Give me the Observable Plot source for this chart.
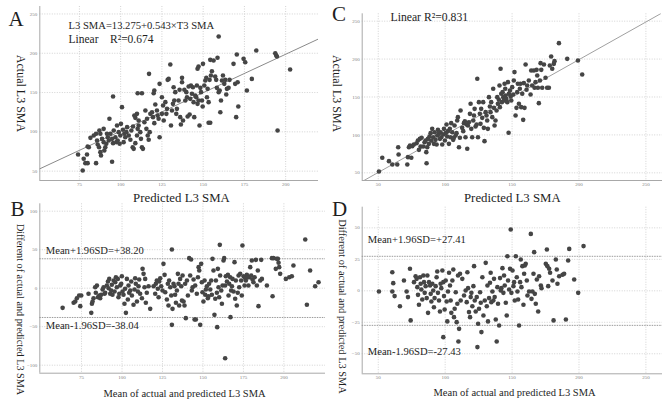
<!DOCTYPE html>
<html><head><meta charset="utf-8">
<script src="https://cdn.jsdelivr.net/npm/d3@7"></script>
<script src="https://cdn.jsdelivr.net/npm/@observablehq/plot@0.6"></script>
<style>
html,body{margin:0;padding:0;background:#fff;}
#wrap{position:relative;width:665px;height:404px;overflow:hidden;background:#fff;}
#wrap svg{position:absolute;overflow:visible;}
</style></head><body><div id="wrap"></div>
<script>
// Panel A: predicted vs actual L3 SMA (T3-based model)
const aPred = [77.0,74.2,77.6,78.6,80.0,79.6,85.1,80.0,80.7,81.7,83.7,85.1,85.7,86.1,86.9,87.7,88.1,87.1,87.7,89.7,88.7,89.7,90.7,90.1,91.7,92.2,91.3,92.8,93.8,94.8,95.4,95.8,96.8,97.4,93.2,94.8,95.4,97.8,98.8,99.8,98.2,99.4,100.2,100.8,101.4,102.2,102.8,101.8,103.5,103.9,104.9,105.9,106.5,107.3,107.9,107.5,108.9,109.9,110.3,110.9,111.9,112.3,112.9,113.5,108.3,108.9,109.9,110.9,110.3,112.9,115.0,116.0,114.4,115.6,116.4,117.6,117.0,118.0,119.0,119.6,120.4,121.0,120.4,120.0,117.2,122.0,122.4,123.0,123.6,123.6,125.0,125.7,125.0,126.1,127.1,128.1,128.5,127.7,129.1,130.1,130.5,131.1,131.7,132.1,132.5,133.1,133.7,134.1,135.1,135.7,136.1,136.5,137.2,137.2,137.8,138.6,139.2,139.8,140.2,140.6,141.2,141.8,142.2,142.6,143.2,143.8,144.2,144.6,145.2,145.8,146.2,146.6,147.2,147.8,146.6,147.2,148.3,148.7,149.3,149.7,149.9,150.7,151.3,151.9,152.3,152.7,153.3,153.9,153.3,154.3,154.7,155.3,154.3,156.3,157.3,157.9,158.3,158.7,159.4,160.0,160.4,160.8,161.4,162.0,162.8,163.4,164.0,164.4,165.4,166.0,159.4,168.4,169.4,170.0,170.4,170.9,171.3,174.5,175.5,176.5,179.5,182.2,193.7,194.3,194.7,195.1,202.7];
const aActual = [50.8,71.2,65.7,60.2,60.2,71.2,60.2,81.4,80.5,92.4,95.4,97.5,89.0,83.9,80.5,74.2,69.9,101.7,97.5,103.8,91.1,86.9,80.5,76.3,97.5,93.2,84.8,89.0,97.5,91.1,85.6,101.7,93.2,86.9,116.6,61.9,145.0,108.1,99.6,95.4,89.0,84.8,110.2,131.4,102.6,97.5,93.2,86.9,99.6,106.0,95.4,89.9,101.7,80.5,78.4,106.8,85.6,95.4,103.8,108.1,99.6,91.1,80.5,78.4,120.8,117.8,122.9,114.4,149.2,149.2,127.2,116.6,112.3,103.8,95.4,99.6,89.9,122.9,125.0,118.7,111.1,134.8,152.6,149.2,173.8,127.2,120.8,116.6,161.1,93.2,144.1,133.5,122.9,114.4,137.8,129.3,166.2,122.9,167.4,185.7,108.1,127.2,135.6,156.8,139.9,150.5,122.9,129.3,139.9,153.5,118.7,109.4,168.7,163.2,114.4,153.5,139.9,150.5,144.1,119.5,157.7,122.1,142.0,159.0,148.4,156.8,137.8,118.7,146.2,144.1,159.0,135.6,139.9,108.1,180.2,183.1,156.0,150.5,139.9,132.3,186.5,159.0,165.3,168.7,144.1,154.7,137.8,166.2,111.5,111.5,171.7,177.2,191.6,190.8,170.4,166.2,156.0,194.2,150.5,152.6,125.0,139.9,165.3,171.7,161.1,166.2,147.5,154.7,156.0,166.2,221.3,186.5,161.1,118.7,198.4,163.2,132.3,192.9,188.6,152.6,167.4,203.5,200.1,197.1,195.9,101.7,179.3];
const fitAX = [51, 220];
const fitAY = [53.0, 218.3];

// Panel C: predicted vs actual L3 SMA (second model)
const cPred = [50.5,53.0,58.0,60.5,64.2,65.2,64.9,71.7,72.2,72.9,73.7,74.7,75.4,76.6,78.6,79.6,80.4,81.1,81.6,82.4,83.6,84.6,85.4,85.9,86.1,86.6,87.1,87.8,88.3,89.1,89.6,90.3,91.1,91.6,92.1,92.8,93.6,94.1,94.6,95.3,96.1,96.6,97.1,97.8,98.6,99.1,99.8,100.3,101.0,101.5,102.0,102.8,103.5,104.0,104.5,105.3,106.0,106.5,107.0,107.8,108.5,109.0,109.5,110.3,111.0,111.5,112.7,113.5,114.0,114.7,115.2,116.0,116.5,117.0,117.7,118.5,119.0,119.5,120.2,121.0,121.5,122.0,122.7,123.5,124.0,124.5,125.2,125.9,126.4,126.9,127.7,128.4,128.9,129.4,130.2,130.9,131.4,131.9,132.7,133.4,133.9,134.4,135.2,135.9,136.4,136.9,137.6,138.4,138.9,139.4,140.1,140.6,140.9,141.4,141.9,142.4,142.9,143.4,143.9,144.4,144.9,145.1,145.6,146.4,146.9,147.4,147.6,148.4,148.9,149.4,150.1,150.8,151.3,151.8,152.6,153.3,153.8,154.3,155.1,155.8,156.3,156.8,157.6,158.3,158.8,159.3,160.1,160.8,161.3,162.5,163.8,164.3,165.0,166.3,166.8,167.5,168.3,168.8,169.3,170.0,170.8,171.3,171.8,172.5,173.8,175.0,176.2,177.5,178.2,179.2,180.0,181.2,181.7,185.0,191.2,199.2,202.4];
const cActual = [51.8,69.8,65.4,61.0,61.0,74.2,83.8,61.0,70.7,83.8,86.0,69.8,85.2,87.4,89.1,92.6,80.3,94.8,84.7,96.2,84.7,90.4,92.6,77.3,62.7,83.8,94.8,88.2,97.9,102.3,92.6,108.0,97.0,88.2,103.6,93.5,87.4,99.2,106.7,101.4,94.8,103.6,97.0,87.4,100.6,108.0,92.6,102.3,113.7,97.9,105.0,88.2,108.0,97.0,115.5,103.6,93.5,96.2,112.4,99.2,102.3,119.0,123.4,83.8,96.2,132.2,109.3,105.0,115.5,118.1,97.0,113.7,81.7,112.4,116.8,127.8,141.0,108.0,97.0,119.0,125.6,134.4,111.1,113.7,174.0,97.0,143.2,127.8,114.6,134.4,122.5,143.2,109.3,91.8,130.0,125.6,119.0,108.0,149.8,137.5,130.0,143.2,123.4,160.8,135.7,112.4,119.0,132.2,149.8,141.0,146.3,165.2,136.6,187.2,154.2,143.2,156.4,149.8,145.4,167.4,160.8,152.0,147.6,143.2,169.6,102.8,154.2,158.6,150.7,145.4,163.0,153.3,171.8,182.8,125.6,135.7,156.4,167.4,141.0,160.8,167.4,136.6,154.2,119.9,168.3,135.7,192.9,159.5,165.2,171.8,153.3,185.0,165.2,185.0,162.1,169.6,185.8,178.4,162.1,141.9,171.8,194.6,185.8,162.1,192.9,175.3,162.1,162.1,191.5,203.4,187.2,193.7,197.3,221.0,200.3,198.1,179.7];
const fitCX = [39.3, 260.9];
const fitCY = [39.9, 259.7];

// Panel B: Bland-Altman for model A
const bMean = [63.3,70.1,71.1,72.1,73.5,74.2,74.8,79.3,81.0,81.4,81.8,82.4,83.4,83.8,84.5,85.1,85.9,86.5,87.1,88.0,88.6,89.2,89.6,90.6,91.3,91.7,92.1,92.7,93.3,93.7,94.1,94.8,95.4,95.8,96.2,96.8,97.4,97.8,98.3,98.9,99.5,99.9,100.3,100.9,101.5,101.9,102.4,103.0,103.6,104.0,104.4,105.1,105.7,106.1,107.1,107.7,108.1,108.5,109.2,109.8,110.2,110.6,111.2,112.3,112.7,113.3,113.9,114.3,114.7,115.3,116.4,117.4,119.5,120.5,120.9,121.5,122.1,122.6,123.0,123.6,124.2,125.0,125.6,126.3,126.7,127.7,128.3,128.7,129.1,129.8,130.4,130.8,130.8,131.2,131.8,132.4,132.8,133.3,133.9,134.5,134.9,135.3,135.9,136.6,137.0,137.4,138.0,138.6,139.0,139.4,140.1,140.7,141.5,142.1,142.7,143.1,143.6,144.2,144.8,145.2,145.6,146.2,146.9,147.3,147.7,148.3,148.9,149.3,149.7,150.3,151.0,151.4,151.8,152.4,153.0,153.4,153.8,154.5,155.1,155.5,155.9,156.5,157.1,157.6,158.0,158.6,158.8,159.2,159.6,160.0,160.4,160.6,161.3,161.7,162.1,162.7,163.1,163.7,164.1,164.8,165.4,165.8,166.2,166.8,167.0,167.4,167.9,168.3,168.9,169.5,169.9,170.3,170.9,171.5,172.0,172.4,173.0,173.6,174.0,174.4,175.1,175.7,176.1,176.5,177.1,177.7,178.1,178.6,179.2,179.8,180.2,180.6,181.2,181.9,182.7,183.3,183.9,184.3,185.4,186.0,186.4,189.5,192.6,193.0,193.6,195.0,195.6,196.3,196.7,197.1,197.7,201.2,203.3,204.9,205.9,213.2,214.2,216.2,219.3,221.4,163.7];
const bDiff = [-25.5,-19.0,-17.3,-13.0,-9.5,-23.3,-9.5,-7.3,-32.0,-20.3,-17.3,-13.0,1.3,-6.0,3.5,-11.7,-9.5,-13.0,-8.6,-1.7,1.3,-7.3,-6.0,3.5,8.7,0.0,12.1,-7.3,-3.0,4.4,-8.6,10.0,-4.3,7.8,14.3,1.3,12.1,-11.7,-7.3,3.5,5.7,15.6,-4.3,-8.6,-20.3,-0.8,-32.0,12.1,-14.7,3.5,-6.0,-3.0,8.7,-9.5,-21.6,-1.7,13.0,5.7,-17.3,-4.3,2.6,11.3,-7.3,-13.0,25.1,18.6,1.3,12.1,-19.0,-6.0,2.6,-26.8,2.6,-7.3,5.7,10.0,-0.8,-11.7,8.7,13.0,2.6,-3.0,31.6,17.3,-5.2,-14.7,5.7,-22.5,10.0,1.3,-9.5,50.2,-47.6,-26.8,5.7,2.6,-8.6,-19.0,-3.0,18.6,5.7,-22.5,12.1,2.6,-16.0,16.5,-17.3,-22.5,5.7,-38.9,10.0,-9.5,39.0,16.5,37.3,-3.0,1.3,11.3,-40.7,3.5,-40.7,-7.3,14.3,27.3,23.0,-47.6,31.6,7.8,-5.2,-17.3,10.0,-8.6,-1.7,2.6,-13.0,-10.4,5.7,-1.7,10.0,-8.6,38.1,23.0,-34.6,-13.8,10.0,-6.0,-50.6,25.1,1.3,-11.7,56.3,16.5,-3.0,-20.3,3.5,36.0,39.0,3.5,15.6,8.7,17.3,-9.5,5.7,14.3,-37.6,-3.0,2.6,12.1,-4.3,33.8,-13.8,10.0,-22.5,-6.0,16.5,1.3,18.6,10.0,-9.5,55.4,15.6,3.5,13.0,10.0,17.3,14.3,3.5,14.3,27.3,16.5,36.0,11.3,7.8,14.3,36.8,3.5,23.0,-23.3,10.0,36.8,12.1,3.5,39.0,-10.4,39.0,25.1,38.1,38.1,33.0,27.3,18.6,12.1,14.3,15.6,29.5,63.2,-21.6,23.0,2.6,7.8,-90.9];
const bLimits = [38.20, -38.04];
const bLimitLabels = ["Mean+1.96SD=+38.20", "Mean-1.96SD=-38.04"];

// Panel D: Bland-Altman for model C
const dMean = [50.5,60.5,61.2,60.5,62.2,66.2,69.2,71.2,72.2,73.7,74.2,76.7,77.9,78.7,79.2,79.7,80.4,81.2,81.7,82.2,82.9,83.7,84.2,84.7,85.4,86.2,86.7,87.2,87.9,88.7,89.2,89.7,90.4,91.1,91.6,92.1,92.9,93.6,94.1,94.6,95.4,96.1,96.6,97.1,97.9,98.6,98.6,99.1,99.6,100.4,101.1,101.6,102.1,102.9,103.6,104.1,104.6,105.4,106.1,106.6,107.1,107.9,108.6,109.1,109.6,109.9,110.4,111.1,111.6,112.8,114.1,115.3,116.1,116.6,117.1,117.8,118.6,119.1,119.6,120.3,121.1,121.6,122.1,122.8,123.6,124.1,124.6,125.3,126.1,126.6,127.1,127.8,128.6,129.6,130.3,131.1,131.6,132.0,132.8,133.5,134.0,134.5,135.3,136.0,136.5,137.0,137.8,138.5,139.0,139.5,140.3,141.0,141.5,142.0,142.8,143.5,144.0,144.5,145.3,146.0,146.5,147.0,147.8,148.5,149.0,149.5,150.3,151.0,151.5,152.0,152.8,153.5,154.0,154.5,155.2,156.0,156.5,157.0,157.7,158.5,159.0,159.5,160.2,161.0,161.5,162.7,164.0,164.5,165.2,166.0,166.5,167.0,167.7,168.5,169.5,170.2,171.5,172.0,175.2,176.0,176.4,177.0,177.7,178.4,180.2,181.0,182.7,183.4,183.9,185.2,187.7,188.9,190.2,191.9,192.7,196.4,199.4,203.4];
const dDiff = [-0.5,14.8,6.1,-0.5,-4.2,-12.2,8.2,-0.5,-5.0,17.5,-23.5,6.9,11.6,9.5,2.9,-3.2,-11.1,10.8,5.6,1.1,-6.9,12.2,6.9,-1.6,3.7,-5.8,12.2,-17.5,6.9,4.2,-2.4,-8.5,5.6,0.3,-13.0,-5.8,3.7,10.8,15.3,-1.6,-7.7,-16.4,5.6,2.1,16.1,-36.8,6.9,-4.2,-14.8,8.2,-8.5,-24.3,-0.5,14.3,4.2,-7.7,-17.5,8.2,16.9,-20.9,-14.3,-1.1,-24.9,-10.3,12.2,-40.2,-30.2,13.5,-7.7,9.5,-3.7,0.3,-9.0,14.8,2.1,-16.9,-20.9,-5.0,-1.6,-12.2,3.7,19.6,-7.7,-16.4,-5.0,-44.7,-26.2,-14.3,-1.1,-9.5,-32.8,10.8,-19.6,-7.7,22.2,-12.2,4.2,-24.3,-5.8,6.4,14.3,-9.0,-0.5,-7.7,9.5,-5.0,-22.8,-40.2,2.9,-10.3,-27.5,10.1,0.3,2.1,18.0,-1.6,12.2,4.2,-9.5,-19.6,27.5,8.2,1.1,17.5,48.7,-1.6,16.1,3.7,6.9,-7.7,27.5,10.8,-0.5,-6.9,-27.5,6.9,24.9,2.9,19.6,-11.1,13.5,20.1,21.4,8.2,-3.7,-0.5,45.2,-6.4,-0.5,13.5,30.7,-2.4,-10.3,9.0,-16.4,11.6,4.2,2.1,21.4,32.8,19.6,3.7,17.5,14.3,8.2,-23.5,24.9,16.9,5.6,11.6,12.7,13.5,-22.8,24.1,33.3,9.0,-1.6,35.5];
const dLimits = [27.41, -27.43];
const dLimitLabels = ["Mean+1.96SD=+27.41", "Mean-1.96SD=-27.43"];

// Tick values
const ticksAX = [75, 100, 125, 150, 175, 200];
const ticksAY = [50, 100, 150, 200, 250];
const ticksBX = [75, 100, 125, 150, 175, 200];
const ticksBY = [-100, -50, 0, 50, 100];
const ticksC = [50, 100, 150, 200, 250];
const ticksDY = [-50, -25, 0, 25, 50];

// Text
const panelLetters = ["A", "B", "C", "D"];
const titleActual = "Actual L3 SMA";
const titlePredicted = "Predicted L3 SMA";
const titleDiff = "Different of actual and predicted L3 SMA";
const titleMean = "Mean of actual and predicted L3 SMA";
const eqA = "L3 SMA=13.275+0.543\u00d7T3 SMA";
const r2A = "Linear\u00a0\u00a0\u00a0\u00a0R\u00b2=0.674";
const r2C = "Linear R\u00b2=0.831";

const serif = "'Liberation Serif','Times New Roman',serif";
const ink = "#1e1e1e";
const dotFill = "#454545";
const wrap = document.getElementById("wrap");
const zip = (xs, ys) => xs.map((x, i) => ({x, y: ys[i]}));

function label(text, opts) {
  return Plot.text([text], {fill: ink, fontFamily: serif, textAnchor: "start", lineAnchor: "middle", ...opts});
}
function limitLabel(d, dx, dy) {
  return Plot.text([d], {y: "v", text: "label", frameAnchor: "left", dx, dy, fontSize: 10.6, fill: ink, textAnchor: "start", lineAnchor: "middle", fontFamily: serif});
}

function panel(o) {
  const svg = Plot.plot({
    width: o.w, height: o.h,
    marginTop: o.m[0], marginRight: o.m[1], marginBottom: o.m[2], marginLeft: o.m[3],
    style: {fontFamily: serif, fontSize: "5px", color: "#808080", background: "transparent", overflow: "visible"},
    x: {domain: o.xd, ticks: o.xt, tickSize: 0, tickPadding: 2, label: null},
    y: {domain: o.yd, ticks: o.yt, tickSize: 0, tickPadding: 2.5, label: null},
    marks: [
      Plot.ruleX(o.xt, {stroke: "#d2d2d2", strokeDasharray: "1,1.5"}),
      Plot.ruleY(o.yt, {stroke: "#d2d2d2", strokeDasharray: "1,1.5"}),
      Plot.ruleX([o.xd[0]], {stroke: "#a8a8a8", strokeWidth: 1}),
      Plot.ruleY([o.yd[0]], {stroke: "#a8a8a8", strokeWidth: 1}),
      ...o.marks,
      label(o.letter, {frameAnchor: "top-left", dx: o.letterD[0], dy: o.letterD[1], fontSize: 21, textAnchor: "middle"}),
      label(o.ytitle, {frameAnchor: "left", rotate: 90, dx: o.ytD[0], dy: o.ytD[1], fontSize: o.ytSize, textAnchor: "middle"}),
      label(o.xtitle, {frameAnchor: "bottom", dx: o.xtD[0], dy: o.xtD[1], fontSize: o.xtSize, textAnchor: "middle"})
    ]
  });
  svg.style.left = o.left + "px";
  svg.style.top = o.top + "px";
  wrap.appendChild(svg);
}

// A
panel({
  left: 0, top: 0, w: 330, h: 200, m: [6, 12, 20, 39.3],
  xd: [51, 219.9], yd: [38.1, 259.5], xt: ticksAX, yt: ticksAY,
  letter: panelLetters[0], letterD: [-23.8, 12.5],
  ytitle: titleActual, ytD: [-19.3, 0], ytSize: 12,
  xtitle: titlePredicted, xtD: [2.3, 17], xtSize: 12.8,
  marks: [
    Plot.line(zip(fitAX, fitAY), {x: "x", y: "y", stroke: "#8a8a8a", strokeWidth: 1, clip: true}),
    Plot.dot(zip(aPred, aActual), {x: "x", y: "y", r: 2.3, fill: dotFill, clip: true}),
    label(eqA, {frameAnchor: "top-left", dx: 28.7, dy: 19, fontSize: 10.6}),
    label(r2A, {frameAnchor: "top-left", dx: 28.7, dy: 33.3, fontSize: 11.5})
  ]
});

// C
panel({
  left: 330, top: 0, w: 335, h: 200, m: [13.3, 3, 20, 31.7],
  xd: [38.0, 262.4], yd: [39.9, 259.7], xt: ticksC, yt: ticksC,
  letter: panelLetters[2], letterD: [-23.2, 0.5],
  ytitle: titleActual, ytD: [-25, -3.6], ytSize: 12,
  xtitle: titlePredicted, xtD: [0, 17], xtSize: 12.8,
  marks: [
    Plot.line(zip(fitCX, fitCY), {x: "x", y: "y", stroke: "#a0a0a0", strokeWidth: 1, clip: true}),
    Plot.dot(zip(cPred, cActual), {x: "x", y: "y", r: 2.3, fill: dotFill, clip: true}),
    label(r2C, {frameAnchor: "top-left", dx: 28.3, dy: 3.7, fontSize: 11.7})
  ]
});

// B
const bLim = bLimits.map((v, i) => ({v, label: bLimitLabels[i]}));
panel({
  left: 0, top: 200, w: 330, h: 204, m: [3.3, 5, 31.3, 39.3],
  xd: [49.2, 225.7], yd: [-110.4, 109.6], xt: ticksBX, yt: ticksBY,
  letter: panelLetters[1], letterD: [-22.3, 5.7],
  ytitle: titleDiff, ytD: [-19.3, 21], ytSize: 10.2,
  xtitle: titleMean, xtD: [1.9, 20], xtSize: 10.5,
  marks: [
    Plot.ruleY(bLimits, {stroke: "#9a9a9a", strokeDasharray: "1.5,1"}),
    Plot.dot(zip(bMean, bDiff), {x: "x", y: "y", r: 2.3, fill: dotFill, clip: true}),
    limitLabel(bLim[0], 6, -8.3),
    limitLabel(bLim[1], 6, 8.3)
  ]
});

// D
const dLim = dLimits.map((v, i) => ({v, label: dLimitLabels[i]}));
panel({
  left: 330, top: 200, w: 335, h: 204, m: [6.7, 3, 30.7, 31.7],
  xd: [38.0, 262.4], yd: [-65.9, 66.4], xt: ticksC, yt: ticksDY,
  letter: panelLetters[3], letterD: [-22.7, 2.3],
  ytitle: titleDiff, ytD: [-20, 16], ytSize: 10.4,
  xtitle: titleMean, xtD: [2.2, 18.7], xtSize: 10.5,
  marks: [
    Plot.ruleY(dLimits, {stroke: "#9a9a9a", strokeDasharray: "1.5,1"}),
    Plot.dot(zip(dMean, dDiff), {x: "x", y: "y", r: 2.3, fill: dotFill, clip: true}),
    limitLabel(dLim[0], 5.6, -16.7),
    limitLabel(dLim[1], 5.6, 26)
  ]
});
</script>
</body></html>
